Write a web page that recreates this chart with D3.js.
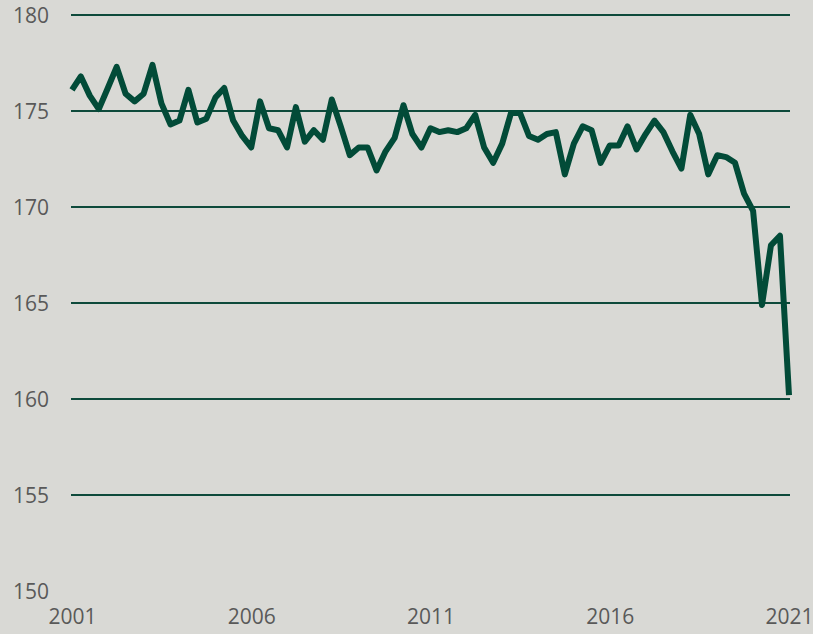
<!DOCTYPE html>
<html>
<head>
<meta charset="utf-8">
<script src="https://cdn.jsdelivr.net/npm/d3@7"></script>
<style>
  html, body { margin: 0; padding: 0; background: #d9d9d5; }
  svg { display: block; }
  .tick text { font-family: "Open Sans", sans-serif; font-size: 21px; fill: #595959; }
</style>
</head>
<body>
<div id="chart"></div>
<script>
var width = 813,
    height = 634;

// quarterly values, 2001 Q1 .. 2021 Q1
var startYear = 2001;
var values = [
  176.1, 176.8, 175.8, 175.1, 176.2, 177.3, 175.9, 175.5, 175.9, 177.4,
  175.4, 174.3, 174.5, 176.1, 174.4, 174.6, 175.7, 176.2, 174.5, 173.7,
  173.1, 175.5, 174.1, 174.0, 173.1, 175.2, 173.4, 174.0, 173.5, 175.6,
  174.2, 172.7, 173.1, 173.1, 171.9, 172.9, 173.6, 175.3, 173.8, 173.1,
  174.1, 173.9, 174.0, 173.9, 174.1, 174.8, 173.1, 172.3, 173.3, 174.9,
  174.9, 173.7, 173.5, 173.8, 173.9, 171.7, 173.3, 174.2, 174.0, 172.3,
  173.2, 173.2, 174.2, 173.0, 173.8, 174.5, 173.9, 172.9, 172.0, 174.8,
  173.8, 171.7, 172.7, 172.6, 172.3, 170.7, 169.8, 164.9, 168.0, 168.5,
  160.2
];
var yTicks = [150, 155, 160, 165, 170, 175, 180];
var yGrid = [155, 160, 165, 170, 175, 180];
var xTickYears = [2001, 2006, 2011, 2016, 2021];

var data = values.map(function (v, i) {
    return { date: new Date(startYear + Math.floor(i / 4), (i % 4) * 3, 1), value: v };
});

var svg = d3.select("#chart").append("svg")
    .attr("width", width)
    .attr("height", height);

var x = d3.scaleTime()
    .domain([new Date(2001, 0, 1), new Date(2021, 0, 1)])
    .range([72, 789]);

var y = d3.scaleLinear()
    .domain([150, 180])
    .range([591, 15]);

// gridlines
svg.append("g")
    .selectAll("line")
    .data(yGrid)
    .enter().append("line")
    .attr("x1", 71)
    .attr("x2", 790)
    .attr("y1", y)
    .attr("y2", y)
    .attr("stroke", "#0e4a3b")
    .attr("stroke-width", 2);

// y axis labels
var yAxis = svg.append("g")
    .attr("transform", "translate(49,0)")
    .call(d3.axisLeft(y).tickValues(yTicks).tickSize(0).tickPadding(0));
yAxis.select(".domain").remove();
yAxis.selectAll("text").attr("dy", "0.35em");

// x axis labels
var xAxis = svg.append("g")
    .attr("transform", "translate(0,609)")
    .call(d3.axisBottom(x)
        .tickValues(xTickYears.map(function (yr) { return new Date(yr, 0, 1); }))
        .tickFormat(d3.timeFormat("%Y"))
        .tickSize(0).tickPadding(0));
xAxis.select(".domain").remove();

// series line
var line = d3.line()
    .x(function (d) { return x(d.date); })
    .y(function (d) { return y(d.value); });

svg.append("path")
    .datum(data)
    .attr("fill", "none")
    .attr("stroke", "#024b38")
    .attr("stroke-width", 6)
    .attr("stroke-linejoin", "round")
    .attr("stroke-linecap", "butt")
    .attr("d", line);
</script>
</body>
</html>
